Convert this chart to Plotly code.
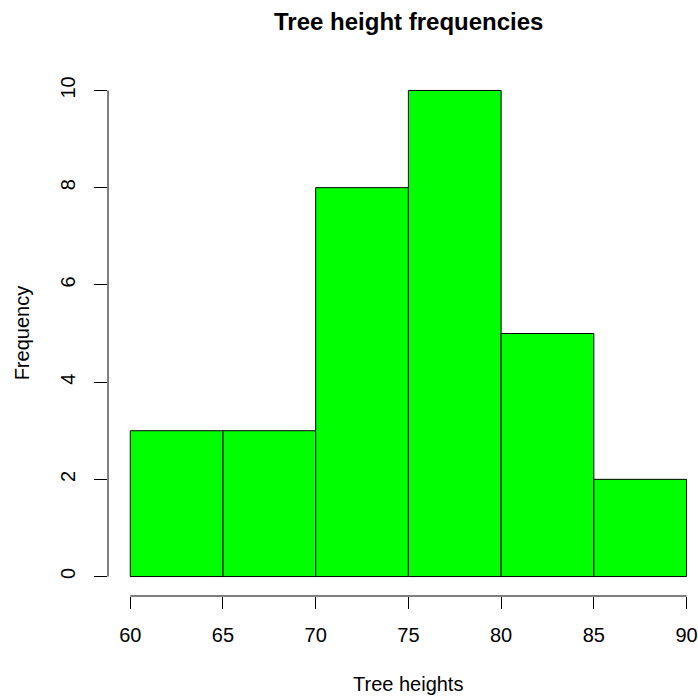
import plotly.graph_objects as go

breaks = [60, 65, 70, 75, 80, 85, 90]
counts = [3, 3, 8, 10, 5, 2]
x_ticks = [60, 65, 70, 75, 80, 85, 90]
y_ticks = [0, 2, 4, 6, 8, 10]

mids = [(a + b) / 2 for a, b in zip(breaks[:-1], breaks[1:])]
widths = [b - a for a, b in zip(breaks[:-1], breaks[1:])]

W, H = 698, 697
L, R, T, B = 108, 0, 71.3, 101
px_per_x = (686.3 - 130) / (breaks[-1] - breaks[0])
xr0 = breaks[0] - 0.04 * (breaks[-1] - breaks[0])
xr1 = xr0 + (W - L - R) / px_per_x
yr = [-0.4, 10.4]

font = "Liberation Sans, Arial, Helvetica, sans-serif"

fig = go.Figure(go.Bar(
    x=mids, y=counts, width=widths,
    marker=dict(color="#00FF00", line=dict(color="black", width=1)),
))

pw, ph = W - L - R, H - T - B
def px(xp): return (xp - L) / pw
def py(yp): return (H - B - yp) / ph

fig.update_layout(
    width=W, height=H,
    margin=dict(l=L, r=R, t=T, b=B, pad=0),
    paper_bgcolor="white", plot_bgcolor="white",
    showlegend=False,
    font=dict(family=font, size=20, color="black"),
    xaxis=dict(range=[xr0, xr1], tickvals=x_ticks, ticktext=[str(v) for v in x_ticks],
               ticks="outside", ticklen=12, tickcolor="black", tickwidth=1,
               showgrid=False, zeroline=False, showline=False,
               ticklabelstandoff=9, ticklabeloverflow="allow"),
    yaxis=dict(range=yr, tickvals=y_ticks, ticktext=[str(v) for v in y_ticks],
               ticks="outside", ticklen=13, tickcolor="black", tickwidth=1,
               showgrid=False, zeroline=False, showline=False, tickangle=-90,
               ticklabelstandoff=11, ticklabeloverflow="allow"),
    shapes=[
        dict(type="line", xref="x", yref="paper", x0=x_ticks[0], x1=x_ticks[-1], y0=0, y1=0,
             line=dict(color="black", width=1)),
        dict(type="line", xref="paper", yref="y", x0=0, x1=0, y0=y_ticks[0], y1=y_ticks[-1],
             line=dict(color="black", width=1)),
    ],
    annotations=[
        dict(text="<b>Tree height frequencies</b>", x=px(408), y=py(22), xref="paper", yref="paper",
             xanchor="center", yanchor="middle", showarrow=False, font=dict(size=24)),
        dict(text="Tree heights", x=px(408), y=py(684), xref="paper", yref="paper",
             xanchor="center", yanchor="middle", showarrow=False, font=dict(size=20)),
        dict(text="Frequency", x=px(22), y=py(333.5), xref="paper", yref="paper",
             xanchor="center", yanchor="middle", showarrow=False, font=dict(size=20), textangle=-90),
    ],
)

fig.write_html(
    "out.html",
    config={"displayModeBar": False},
    post_script="document.body.style.margin='0';document.body.style.overflow='hidden';",
)
